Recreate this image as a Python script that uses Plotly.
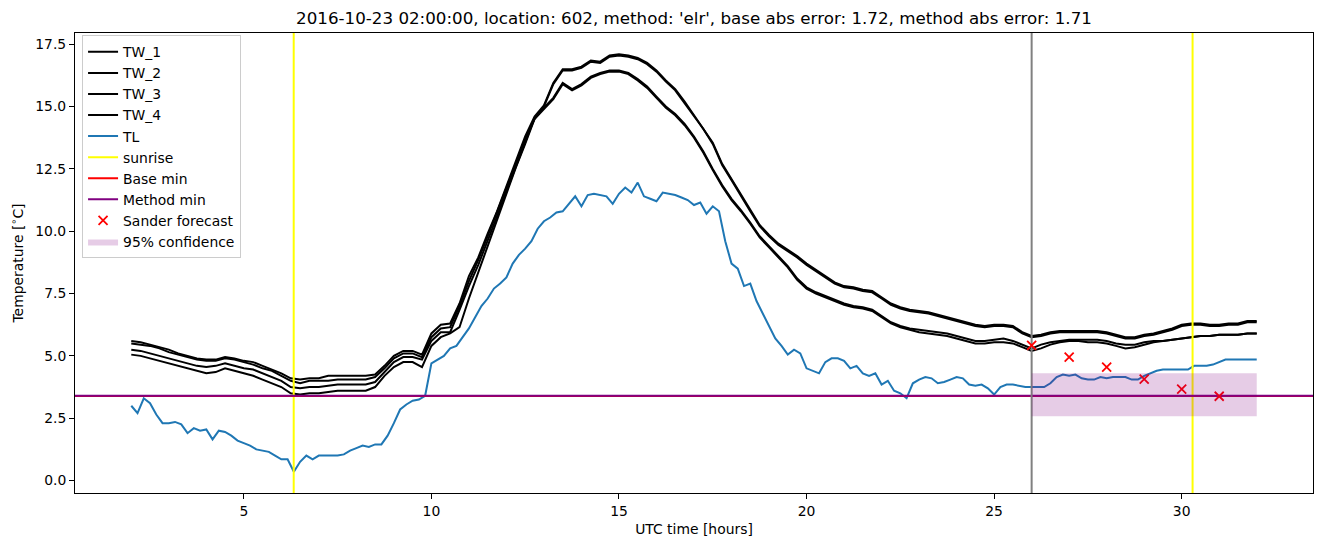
import plotly.graph_objects as go

# ---------------- data ----------------
t_tw = [2 + 0.25 * i for i in range(121)]
t_tl = [2 + i / 6 for i in range(181)]

tw_1 = [5.6, 5.55, 5.45, 5.35, 5.25, 5.1, 5.0, 4.9,
        4.85, 4.85, 4.95, 4.9, 4.8, 4.75, 4.6, 4.45,
        4.3, 4.1, 4.05, 4.1, 4.1, 4.2, 4.2, 4.2,
        4.2, 4.2, 4.25, 4.6, 5.0, 5.2, 5.2, 5.05,
        5.9, 6.25, 6.3, 7.1, 8.2, 8.95, 9.9, 10.8,
        11.8, 12.8, 13.8, 14.6, 15.05, 15.95, 16.5, 16.5,
        16.6, 16.85, 16.8, 17.05, 17.1, 17.05, 16.95, 16.75,
        16.45, 16.05, 15.7, 15.2, 14.65, 14.15, 13.55, 12.7,
        12.1, 11.45, 10.85, 10.25, 9.85, 9.5, 9.25, 9.0,
        8.7, 8.45, 8.2, 7.95, 7.8, 7.75, 7.65, 7.6,
        7.35, 7.1, 6.95, 6.85, 6.8, 6.75, 6.65, 6.55,
        6.45, 6.35, 6.25, 6.2, 6.25, 6.25, 6.2, 5.95,
        5.8, 5.85, 5.95, 6.0, 6.0, 6.0, 6.0, 6.0,
        5.95, 5.85, 5.75, 5.75, 5.85, 5.9, 6.0, 6.1,
        6.25, 6.3, 6.3, 6.25, 6.25, 6.3, 6.3, 6.4,
        6.4]

tw_2 = [5.5, 5.45, 5.4, 5.3, 5.15, 5.05, 4.95, 4.85,
        4.8, 4.8, 4.9, 4.85, 4.75, 4.65, 4.5, 4.4,
        4.2, 4.0, 3.9, 4.0, 4.0, 4.0, 4.05, 4.05,
        4.05, 4.05, 4.15, 4.5, 4.9, 5.1, 5.1, 4.95,
        5.75, 6.1, 6.15, 7.0, 8.0, 8.85, 9.8, 10.75,
        11.7, 12.7, 13.7, 14.5, 15.0, 15.9, 16.45, 16.45,
        16.55, 16.8, 16.75, 17.0, 17.05, 17.0, 16.9, 16.7,
        16.4, 16.0, 15.65, 15.15, 14.6, 14.1, 13.5, 12.65,
        12.05, 11.4, 10.8, 10.2, 9.8, 9.45, 9.2, 8.95,
        8.65, 8.4, 8.15, 7.9, 7.75, 7.7, 7.6, 7.55,
        7.3, 7.05, 6.9, 6.8, 6.75, 6.7, 6.6, 6.5,
        6.4, 6.3, 6.2, 6.15, 6.2, 6.2, 6.15, 5.9,
        5.75, 5.8, 5.9, 5.95, 5.95, 5.95, 5.95, 5.95,
        5.9, 5.8, 5.7, 5.7, 5.8, 5.85, 5.95, 6.05,
        6.2, 6.25, 6.25, 6.2, 6.2, 6.25, 6.25, 6.35,
        6.35]

tw_3 = [5.25, 5.2, 5.1, 5.0, 4.9, 4.8, 4.7, 4.6,
        4.55, 4.6, 4.7, 4.6, 4.5, 4.45, 4.3, 4.15,
        4.0, 3.75, 3.7, 3.75, 3.75, 3.8, 3.85, 3.85,
        3.85, 3.85, 3.95, 4.35, 4.75, 4.95, 4.95, 4.85,
        5.6, 5.95, 5.95, 6.85, 7.8, 8.65, 9.6, 10.6,
        11.6, 12.6, 13.55, 14.55, 14.95, 15.35, 15.95, 15.7,
        15.9, 16.2, 16.35, 16.45, 16.45, 16.35, 16.1, 15.8,
        15.4, 15.0, 14.7, 14.3, 13.8, 13.2, 12.5, 11.85,
        11.3, 10.85, 10.35, 9.8, 9.4, 9.0, 8.6, 8.1,
        7.75, 7.55, 7.4, 7.25, 7.1, 7.0, 6.95, 6.85,
        6.6, 6.35, 6.2, 6.1, 6.05, 6.0, 5.95, 5.9,
        5.8, 5.7, 5.6, 5.6, 5.65, 5.7, 5.6, 5.45,
        5.3, 5.45, 5.55, 5.6, 5.65, 5.65, 5.65, 5.65,
        5.6, 5.5, 5.45, 5.45, 5.55, 5.6, 5.6, 5.65,
        5.7, 5.75, 5.8, 5.8, 5.85, 5.85, 5.85, 5.9,
        5.9]

tw_4 = [5.05, 5.0, 4.9, 4.8, 4.7, 4.6, 4.5, 4.4,
        4.3, 4.35, 4.5, 4.4, 4.3, 4.2, 4.05, 3.9,
        3.75, 3.5, 3.45, 3.5, 3.5, 3.55, 3.6, 3.6,
        3.6, 3.6, 3.75, 4.2, 4.55, 4.75, 4.75, 4.55,
        5.4, 5.75, 5.9, 6.15, 7.3, 8.35, 9.45, 10.5,
        11.55, 12.55, 13.5, 14.5, 14.9, 15.3, 15.9, 15.65,
        15.85, 16.15, 16.3, 16.4, 16.4, 16.3, 16.05, 15.75,
        15.35, 14.95, 14.65, 14.25, 13.75, 13.15, 12.45, 11.8,
        11.25, 10.8, 10.3, 9.75, 9.35, 8.95, 8.55, 8.05,
        7.7, 7.5, 7.35, 7.2, 7.05, 6.95, 6.9, 6.8,
        6.55, 6.3, 6.15, 6.05, 5.95, 5.9, 5.85, 5.8,
        5.7, 5.6, 5.5, 5.5, 5.55, 5.55, 5.5, 5.35,
        5.2, 5.3, 5.45, 5.55, 5.6, 5.6, 5.55, 5.55,
        5.5, 5.4, 5.3, 5.35, 5.45, 5.55, 5.6, 5.65,
        5.7, 5.75, 5.8, 5.8, 5.85, 5.85, 5.85, 5.9,
        5.9]

tl = [3.0, 2.7, 3.3, 3.1, 2.65, 2.3, 2.3, 2.35, 2.25, 1.9,
      2.1, 2.0, 2.05, 1.65, 2.0, 1.95, 1.8, 1.6, 1.5, 1.4,
      1.25, 1.2, 1.15, 1.0, 0.85, 0.85, 0.35, 0.75, 1.0, 0.85,
      1.0, 1.0, 1.0, 1.0, 1.05, 1.2, 1.3, 1.4, 1.35, 1.45,
      1.45, 1.8, 2.3, 2.85, 3.05, 3.2, 3.25, 3.4, 4.7, 4.85,
      5.0, 5.3, 5.4, 5.75, 6.1, 6.55, 7.0, 7.3, 7.7, 7.9,
      8.15, 8.7, 9.05, 9.3, 9.6, 10.1, 10.4, 10.55, 10.75, 10.8,
      11.1, 11.4, 11.0, 11.45, 11.5, 11.45, 11.4, 11.1, 11.5, 11.75,
      11.55, 11.95, 11.4, 11.3, 11.2, 11.55, 11.5, 11.45, 11.35, 11.25,
      11.05, 11.15, 10.7, 11.0, 10.8, 9.6, 8.7, 8.5, 7.8, 7.9,
      7.2, 6.7, 6.2, 5.7, 5.4, 5.05, 5.25, 5.1, 4.5, 4.4,
      4.3, 4.75, 4.9, 4.9, 4.8, 4.5, 4.6, 4.3, 4.2, 4.3,
      3.85, 4.0, 3.6, 3.5, 3.3, 3.9, 4.05, 4.15, 4.1, 3.9,
      3.95, 4.05, 4.15, 4.1, 3.85, 3.8, 3.85, 3.7, 3.45, 3.75,
      3.85, 3.85, 3.8, 3.75, 3.75, 3.75, 3.75, 3.9, 4.15, 4.25,
      4.2, 4.25, 4.1, 4.05, 4.05, 4.15, 4.1, 4.15, 4.15, 4.15,
      4.05, 4.05, 4.2, 4.3, 4.4, 4.45, 4.45, 4.45, 4.45, 4.45,
      4.6, 4.6, 4.6, 4.65, 4.75, 4.85, 4.85, 4.85, 4.85, 4.85,
      4.85]

sunrise_hours = [6.33, 30.29]
forecast_start = 26.0
base_min = 3.39
method_min = 3.40

sander_hours = [26, 27, 28, 29, 30, 31]
sander_values = [5.42, 4.95, 4.55, 4.07, 3.67, 3.38]

conf_hours = [26.0, 32.0]
conf_low = 2.58
conf_high = 4.3

x_range = [0.5, 33.5]
y_range = [-0.5, 17.95]
x_ticks = [5, 10, 15, 20, 25, 30]
y_ticks = [0.0, 2.5, 5.0, 7.5, 10.0, 12.5, 15.0, 17.5]

title = ("2016-10-23 02:00:00, location: 602, method: 'elr', "
         "base abs error: 1.72, method abs error: 1.71")

# ---------------- figure ----------------
FONT = "DejaVu Sans"
# page body has an 8px margin: size the figure so it fills the 1324x547 window
W, H = 1316, 539
fig = go.Figure()

for name, vals in [("TW_1", tw_1), ("TW_2", tw_2), ("TW_3", tw_3), ("TW_4", tw_4)]:
    fig.add_trace(go.Scatter(x=t_tw, y=vals, mode="lines", name=name,
                             line=dict(color="black", width=2)))

fig.add_trace(go.Scatter(x=t_tl, y=tl, mode="lines", name="TL",
                         line=dict(color="#1f77b4", width=2)))

sx, sy = [], []
for h in sunrise_hours:
    sx += [h, h, None]
    sy += [y_range[0], y_range[1], None]
fig.add_trace(go.Scatter(x=sx, y=sy, mode="lines", name="sunrise",
                         line=dict(color="yellow", width=2)))

fig.add_trace(go.Scatter(x=x_range, y=[base_min, base_min], mode="lines",
                         name="Base min", line=dict(color="red", width=2)))
fig.add_trace(go.Scatter(x=x_range, y=[method_min, method_min], mode="lines",
                         name="Method min", line=dict(color="purple", width=2)))

fig.add_trace(go.Scatter(x=[forecast_start, forecast_start], y=y_range, mode="lines",
                         showlegend=False, hoverinfo="skip",
                         line=dict(color="gray", width=2)))

fig.add_trace(go.Scatter(x=sander_hours, y=sander_values, mode="markers",
                         name="Sander forecast",
                         marker=dict(symbol="x-thin", size=9, color="red",
                                     line=dict(color="red", width=1.8))))

fig.add_trace(go.Scatter(
    x=[conf_hours[0], conf_hours[1], conf_hours[1], conf_hours[0], conf_hours[0]],
    y=[conf_low, conf_low, conf_high, conf_high, conf_low],
    mode="lines", fill="toself", name="95% confidence",
    fillcolor="rgba(128,0,128,0.2)", line=dict(width=0, color="rgba(128,0,128,0)")))

fig.update_layout(
    width=W, height=H,
    margin=dict(l=67, r=11, t=25, b=54, autoexpand=False),
    paper_bgcolor="white", plot_bgcolor="white",
    font=dict(family=FONT, size=13.9, color="black"),
    title=dict(text=title, x=0.5, xref="paper", xanchor="center",
               y=1 - 10 / H, yref="container", yanchor="middle",
               font=dict(family=FONT, size=16.7, color="black")),
    showlegend=True,
    legend=dict(x=0.0057, y=0.995, xanchor="left", yanchor="top",
                bgcolor="rgba(255,255,255,0.8)", bordercolor="#cccccc",
                borderwidth=1, font=dict(family=FONT, size=13.9),
                tracegroupgap=0),
)

fig.update_xaxes(range=x_range, tickvals=x_ticks, ticktext=[str(v) for v in x_ticks],
                 showgrid=False, zeroline=False, showline=True, mirror=True,
                 linecolor="black", linewidth=1, ticks="outside", ticklen=5,
                 tickcolor="black", automargin=False,
                 title=dict(text="UTC time [hours]", standoff=6,
                            font=dict(family=FONT, size=13.9)))
fig.update_yaxes(range=y_range, tickvals=y_ticks, ticktext=[f"{v:.1f}" for v in y_ticks],
                 showgrid=False, zeroline=False, showline=True, mirror=True,
                 linecolor="black", linewidth=1, ticks="outside", ticklen=5,
                 tickcolor="black", automargin=False,
                 title=dict(text="Temperature [<sup>∘</sup>C]", standoff=8,
                            font=dict(family=FONT, size=13.9)))

fig.write_html("out.html")
